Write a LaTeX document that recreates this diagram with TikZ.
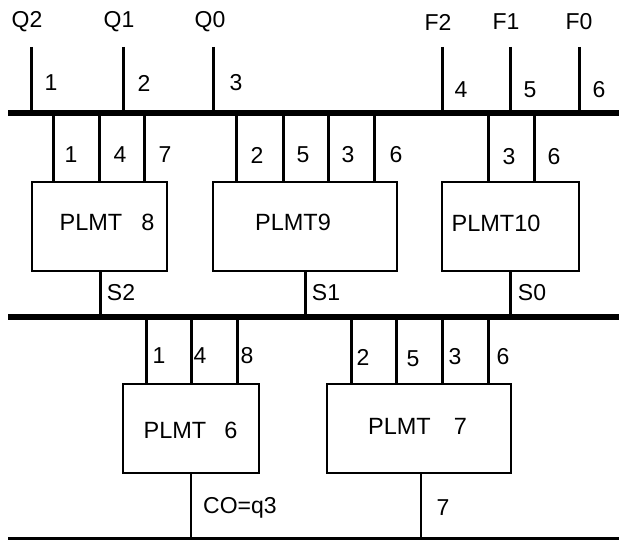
\documentclass[tikz,border=0pt]{standalone}
\usepackage{fontspec}
\setmainfont{Liberation Sans}
\begin{document}
\begin{tikzpicture}[x=1pt,y=-1pt,
  bus/.style={line width=5.5pt},
  wire/.style={line width=3pt},
  owire/.style={line width=2.5pt},
  blk/.style={draw,line width=2pt,anchor=north west,inner sep=0pt,outer sep=0pt},
  lbl/.style={font=\fontsize{23}{27}\selectfont,inner sep=0pt},
  btxt/.style={font=\fontsize{23.5}{28}\selectfont,inner sep=0pt}]
\useasboundingbox (0,0) rectangle (619,540);

% buses
\coordinate (busA-l) at (8,113);   \coordinate (busA-r) at (619,113);
\coordinate (busB-l) at (8,317);   \coordinate (busB-r) at (619,317);
\coordinate (busC-l) at (8,538);   \coordinate (busC-r) at (619,538);
\draw[bus] (busA-l) -- (busA-r);
\draw[bus] (busB-l) -- (busB-r);
\draw[line width=3pt] (busC-l) -- (busC-r);

% top inputs
\foreach \n/\x/\t in {q2/31/Q2,q1/123/Q1,q0/213/Q0,f2/442/F2,f1/510/F1,f0/579/F0}{
  \coordinate (in-\n) at (\x,47);
  \draw[wire] (in-\n) -- (\x,0 |- busA-l);
}
\node[lbl] (tq2) at (27,22) {Q2};
\node[lbl] (tq1) at (119,22) {Q1};
\node[lbl] (tq0) at (210,22) {Q0};
\node[lbl] (tf2) at (438,22) {F2};
\node[lbl] (tf1) at (506,22) {F1};
\node[lbl] (tf0) at (579,22) {F0};
\node[lbl] (n1) at (51,83) {1};
\node[lbl] (n2) at (144,83) {2};
\node[lbl] (n3) at (236,83) {3};
\node[lbl] (n4) at (461,90) {4};
\node[lbl] (n5) at (530,90) {5};
\node[lbl] (n6) at (599,90) {6};

% upper blocks
\node[blk,minimum width=135pt,minimum height=89pt] (b8) at (32,182) {};
\node[blk,minimum width=184pt,minimum height=89pt] (b9) at (213,182) {};
\node[blk,minimum width=137pt,minimum height=89pt] (b10) at (442,182) {};
\node[btxt] (t8) at (107,222) {PLMT\hspace{19pt}8};
\node[btxt] (t9) at (293,222) {PLMT9};
\node[btxt] (t10) at (496,223) {PLMT10};

\foreach \x in {53,99,144}{\draw[wire] (\x,0 |- busA-l) -- (\x,0 |- b8.north);}
\foreach \x in {236,283,328,374}{\draw[wire] (\x,0 |- busA-l) -- (\x,0 |- b9.north);}
\foreach \x in {488,534}{\draw[wire] (\x,0 |- busA-l) -- (\x,0 |- b10.north);}
\node[lbl] (a1) at (71,155) {1};
\node[lbl] (a4) at (120,155) {4};
\node[lbl] (a7) at (165,155) {7};
\node[lbl] (c2) at (257,155) {2};
\node[lbl] (c5) at (303,155) {5};
\node[lbl] (c3) at (348,155) {3};
\node[lbl] (c6) at (396,155) {6};
\node[lbl] (d3) at (509,157) {3};
\node[lbl] (d6) at (554,157) {6};

% outputs S2 S1 S0
\draw[wire] (100,0 |- b8.south) -- (100,0 |- busB-l);
\draw[wire] (305,0 |- b9.south) -- (305,0 |- busB-l);
\draw[wire] (510,0 |- b10.south) -- (510,0 |- busB-l);
\node[lbl] (s2) at (121,293) {S2};
\node[lbl] (s1) at (326,293) {S1};
\node[lbl] (s0) at (532,293) {S0};

% lower blocks
\node[blk,minimum width=136pt,minimum height=89pt] (b6) at (123,384) {};
\node[blk,minimum width=184pt,minimum height=89pt] (b7) at (327,384) {};
\node[btxt] (t6) at (190.5,430) {PLMT\hspace{18pt}6};
\node[btxt] (t7) at (417.5,426) {PLMT\hspace{23pt}7};

\foreach \x in {146,191,237}{\draw[wire] (\x,0 |- busB-l) -- (\x,0 |- b6.north);}
\foreach \x in {351,396,442,488}{\draw[wire] (\x,0 |- busB-l) -- (\x,0 |- b7.north);}
\node[lbl] (e1) at (159,356) {1};
\node[lbl] (e4) at (200,356) {4};
\node[lbl] (e8) at (247,356) {8};
\node[lbl] (g2) at (363,357) {2};
\node[lbl] (g5) at (413,359) {5};
\node[lbl] (g3) at (455,357) {3};
\node[lbl] (g6) at (503,357) {6};

\draw[owire] (191,0 |- b6.south) -- (191,0 |- busC-l);
\draw[owire] (421,0 |- b7.south) -- (421,0 |- busC-l);
\node[lbl] (co) at (240,508) {CO=q3};
\node[lbl] (o7) at (443,508) {7};
\end{tikzpicture}
\end{document}
